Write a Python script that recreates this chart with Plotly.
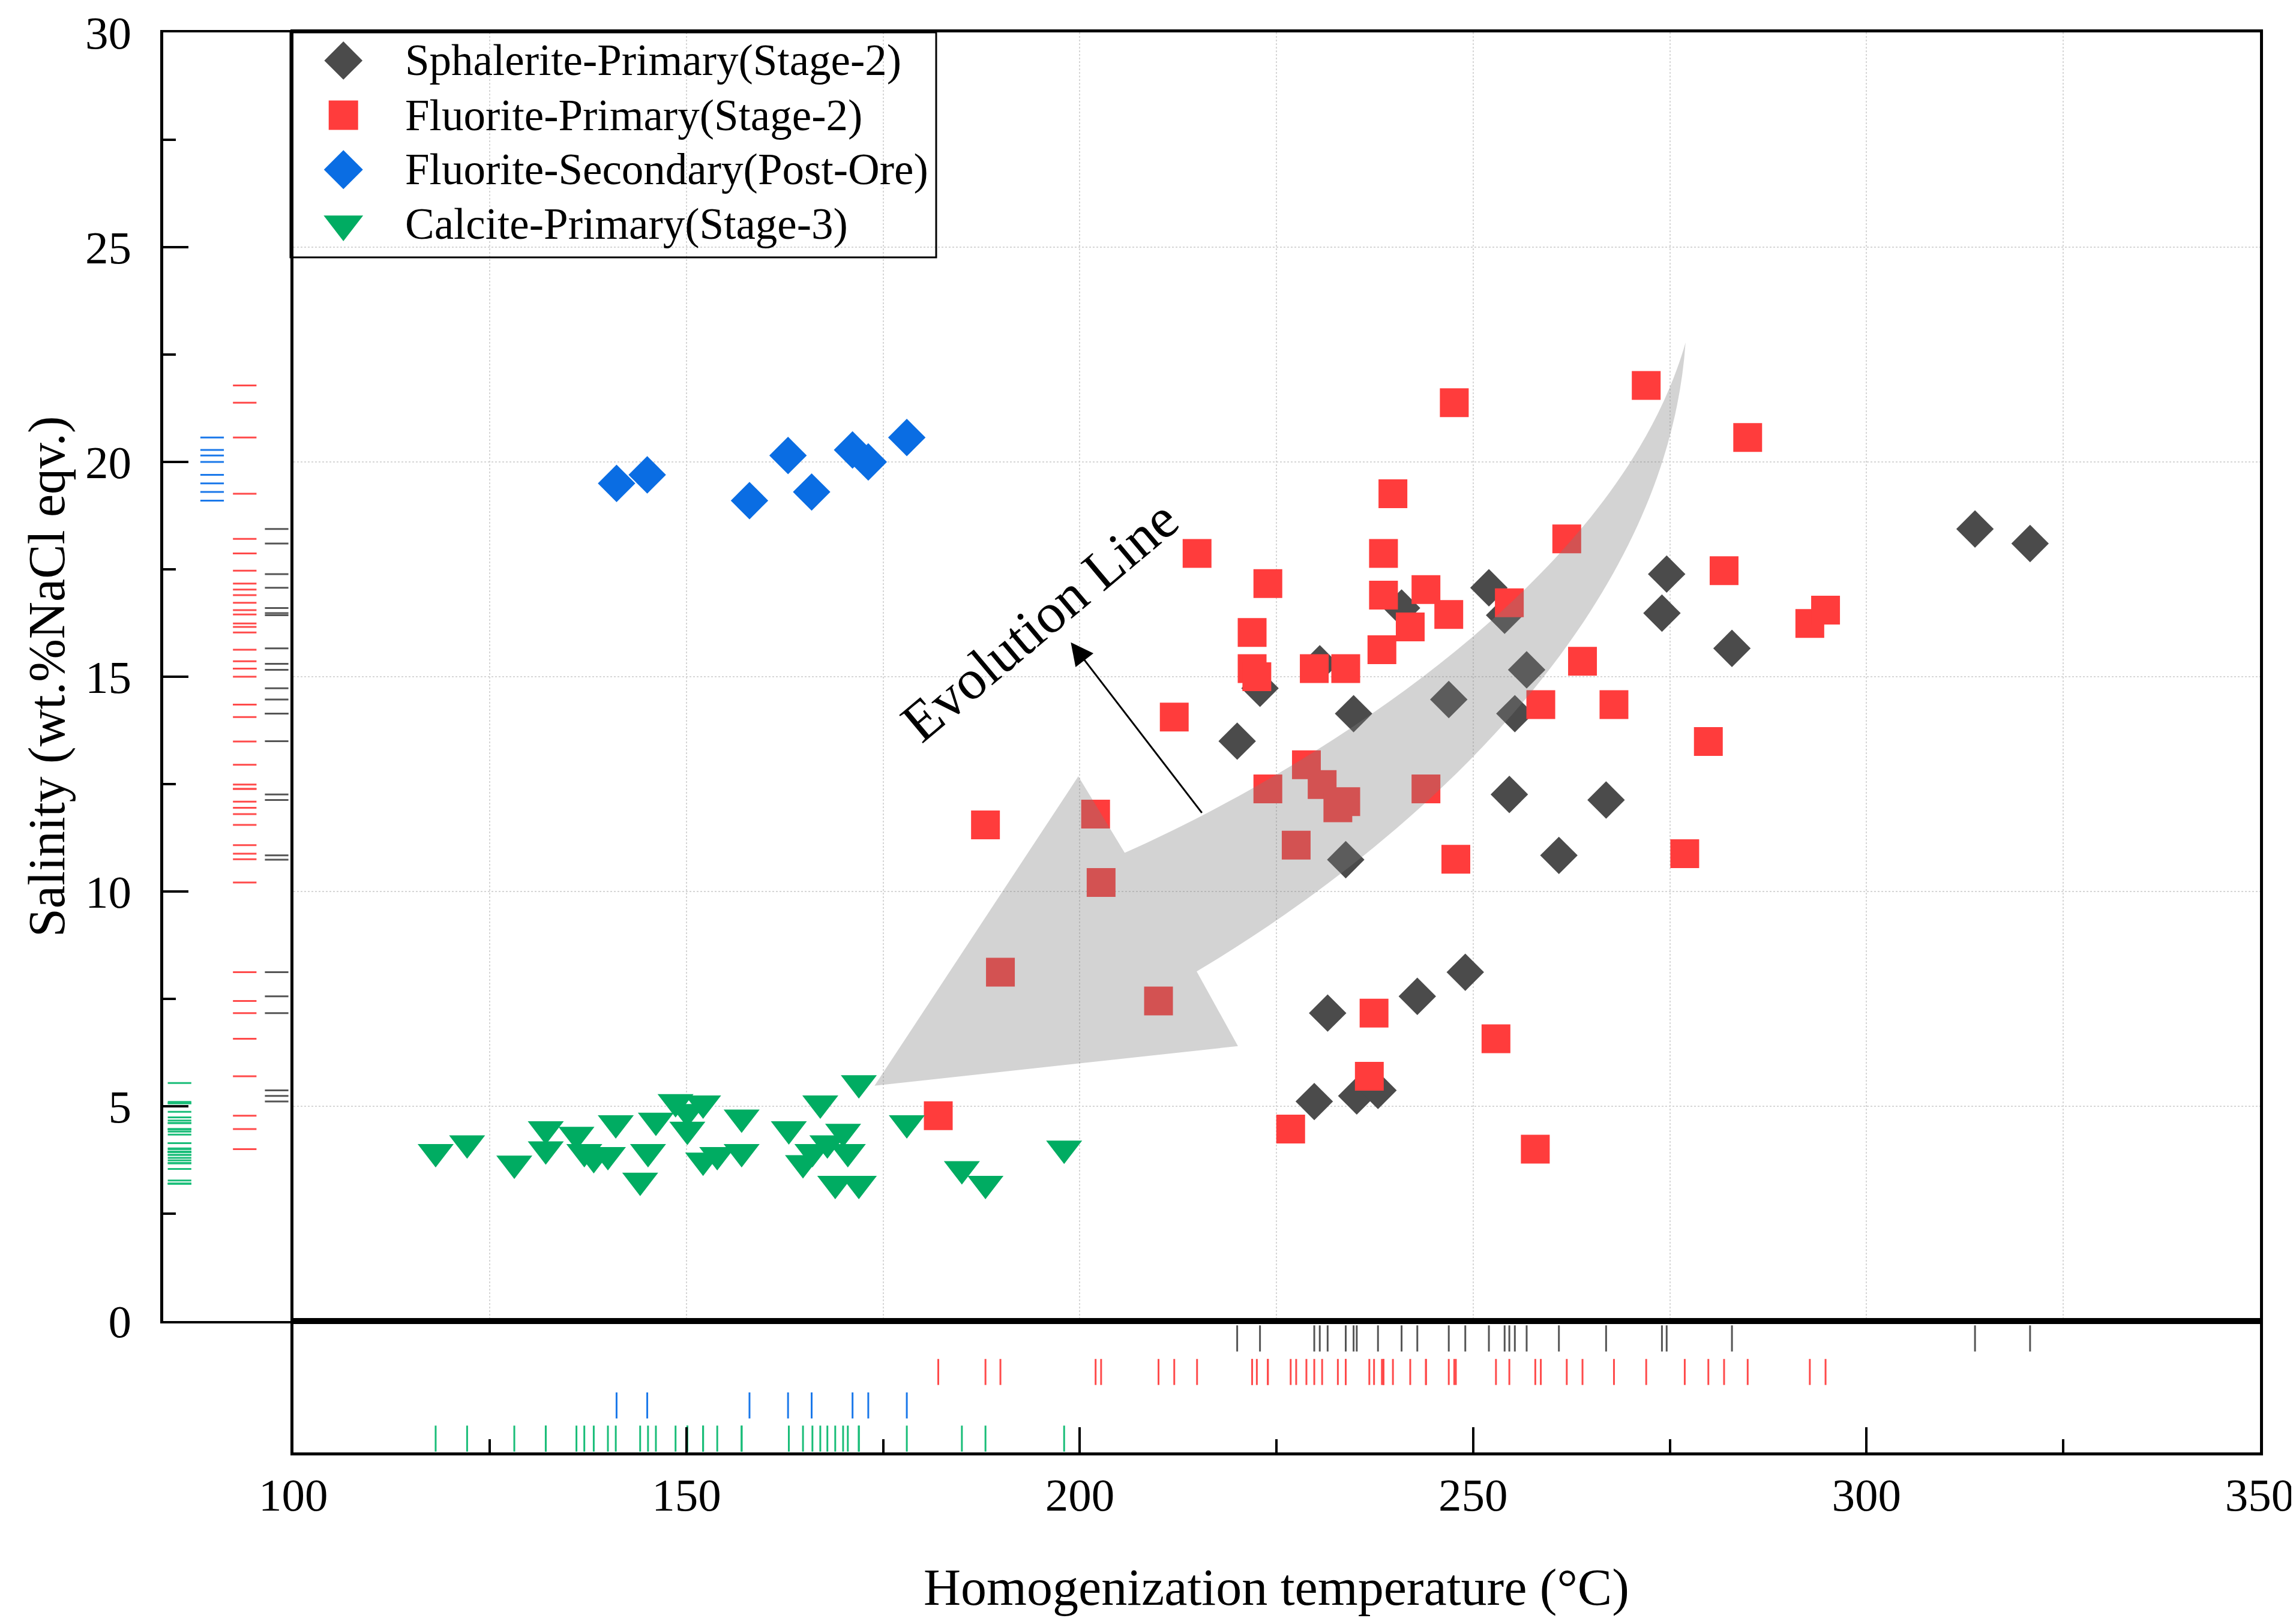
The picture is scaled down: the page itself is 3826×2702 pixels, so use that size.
import plotly.graph_objects as go

# ---------------- data ----------------
series_names = ["Sphalerite-Primary(Stage-2)", "Fluorite-Primary(Stage-2)",
                "Fluorite-Secondary(Post-Ore)", "Calcite-Primary(Stage-3)"]

sphalerite_T = [220.0, 222.9, 229.8, 230.5, 231.5, 233.8, 234.8, 235.2, 237.9, 240.9,
                242.9, 246.9, 249.0, 252.0, 254.0, 254.6, 255.3, 256.8, 260.9, 266.9,
                274.0, 274.6, 282.9, 313.8, 320.8]
sphalerite_S = [13.50, 14.73, 5.11, 15.30, 7.17, 10.74, 14.14, 5.24, 5.37, 16.60,
                7.56, 14.47, 8.12, 17.07, 16.43, 12.26, 14.14, 15.16, 10.84, 12.13,
                16.48, 17.39, 15.66, 18.44, 18.10]

fluorite_p_T = [247.6, 272.0, 284.9, 239.8, 214.9, 223.9, 238.6, 244.0, 238.6, 242.0,
                246.9, 254.6, 261.9, 221.9, 221.9, 222.5, 229.8, 233.8, 238.4, 263.9,
                258.6, 267.9, 212.0, 281.9, 292.8, 294.8, 228.8, 230.8, 223.9, 244.0,
                232.8, 233.8, 227.5, 202.0, 188.0, 202.7, 247.8, 276.9, 279.9, 189.9,
                210.0, 237.4, 252.9, 236.8, 182.0, 226.8, 257.9]
fluorite_p_S = [21.38, 21.78, 20.57, 19.26, 17.87, 17.17, 17.87, 17.03, 16.90, 16.16,
                16.45, 16.72, 18.21, 16.03, 15.19, 15.00, 15.19, 15.19, 15.63, 15.36,
                14.35, 14.35, 14.06, 17.47, 16.24, 16.55, 12.95, 12.49, 12.39, 12.39,
                11.95, 12.09, 11.08, 11.80, 11.55, 10.21, 10.75, 10.88, 13.49, 8.12,
                7.45, 7.17, 6.57, 5.70, 4.78, 4.47, 4.00]

fluorite_s_T = [141.1, 145.0, 158.0, 162.9, 165.9, 171.1, 173.1, 178.0]
fluorite_s_S = [19.50, 19.70, 19.10, 20.15, 19.30, 20.28, 20.00, 20.57]

calcite_T = [118.1, 122.1, 128.1, 132.1, 132.1, 136.0, 137.0, 138.2, 140.0, 141.0,
             144.1, 145.1, 146.1, 148.6, 150.1, 150.1, 152.1, 152.1, 153.9, 157.0,
             157.0, 163.0, 164.8, 166.0, 167.0, 167.9, 168.9, 169.9, 170.5, 171.9,
             171.9, 178.0, 185.0, 188.0, 198.0]
calcite_S = [3.94, 4.14, 3.67, 4.47, 4.00, 4.34, 3.94, 3.80, 3.87, 4.61,
             3.27, 3.94, 4.67, 5.10, 4.87, 4.46, 5.07, 3.74, 3.87, 4.74,
             3.94, 4.47, 3.68, 3.94, 5.07, 4.14, 3.20, 4.41, 3.94, 3.20,
             5.54, 4.61, 3.54, 3.20, 4.02]

x_ticks = [100, 150, 200, 250, 300, 350]
y_ticks = [0, 5, 10, 15, 20, 25, 30]
x_title = "Homogenization temperature (°C)"
y_title = "Salinity (wt.%NaCl eqv.)"
arrow_label = "Evolution Line"

# outline of the grey "evolution" arrow (data coordinates)
evo_tail = (277.0, 22.78)
evo_upper_c1 = (268.1, 17.06)
evo_upper_c2 = (227.1, 12.63)
evo_notch_up = (205.7, 10.90)
evo_barb_up = (199.8, 12.68)
evo_tip = (173.9, 5.48)
evo_barb_low = (220.1, 6.40)
evo_notch_low = (214.85, 8.14)
evo_lower_c1 = (242.0, 11.10)
evo_lower_c2 = (274.6, 16.38)
pointer_from = (215.6, 11.81)
pointer_to = (198.85, 15.80)
label_pos = (194.9, 16.31)

# ---------------- style / layout ----------------
W, H = 3826, 2702
FONT = "Liberation Serif"
XL, X0, X1 = 263.5 / W, 480.7 / W, 3757.6 / W
YT, Y0, YB = 1 - 46.0 / H, 1 - 2194.0 / H, 1 - 2413.0 / H
LEG = dict(x0=476 / W, x1=1552 / W, y0=1 - 421 / H, y1=1 - 46 / H)

series = [
    dict(name=series_names[0], x=sphalerite_T, y=sphalerite_S, symbol="diamond", size=48,
         color="#4b4b4b", rug="#555555", lane_b=3.47, lane_l=3.49, leg_size=49),
    dict(name=series_names[1], x=fluorite_p_T, y=fluorite_p_S, symbol="square", size=48,
         color="#ff3c3c", rug="#ff4a4a", lane_b=2.45, lane_l=2.51, leg_size=49),
    dict(name=series_names[2], x=fluorite_s_T, y=fluorite_s_S, symbol="diamond", size=48,
         color="#0a6de3", rug="#1a78ea", lane_b=1.43, lane_l=1.51, leg_size=50),
    dict(name=series_names[3], x=calcite_T, y=calcite_S, symbol="triangle-down", size=52,
         color="#00ac62", rug="#19bd78", lane_b=0.42, lane_l=0.51, leg_size=57),
]

fig = go.Figure()

# main scatter
for s in series:
    fig.add_trace(go.Scatter(x=s["x"], y=s["y"], mode="markers", name=s["name"],
                             marker=dict(symbol=s["symbol"], size=s["size"], color=s["color"],
                                         line=dict(width=0)),
                             xaxis="x", yaxis="y", showlegend=False, hoverinfo="skip"))

# left rug (salinity)
for s in series:
    fig.add_trace(go.Scatter(x=[s["lane_l"]] * len(s["y"]), y=s["y"], mode="markers",
                             marker=dict(symbol="line-ew", size=28,
                                         line=dict(width=3, color=s["rug"])),
                             xaxis="x2", yaxis="y2", showlegend=False, hoverinfo="skip"))

# bottom rug (temperature)
for s in series:
    fig.add_trace(go.Scatter(x=s["x"], y=[s["lane_b"]] * len(s["x"]), mode="markers",
                             marker=dict(symbol="line-ns", size=31,
                                         line=dict(width=3, color=s["rug"])),
                             xaxis="x3", yaxis="y3", showlegend=False, hoverinfo="skip"))

# custom legend
leg_rows = [0.875, 0.632, 0.39, 0.148]
annotations = []
for s, ry in zip(series, leg_rows):
    fig.add_trace(go.Scatter(x=[0.082], y=[ry], mode="markers",
                             marker=dict(symbol=s["symbol"], size=s["leg_size"], color=s["color"],
                                         line=dict(width=0)),
                             xaxis="x4", yaxis="y4", showlegend=False, hoverinfo="skip"))
    annotations.append(dict(x=0.176, y=ry, xref="x4", yref="y4", text=s["name"],
                            showarrow=False, xanchor="left", yanchor="middle",
                            font=dict(family=FONT, size=73, color="black")))

grid = dict(showgrid=True, gridcolor="#d6d6d6", griddash="dot", gridwidth=2)
tickfont = dict(family=FONT, size=77, color="black")
common = dict(automargin=False, zeroline=False, linecolor="black")

fig.update_layout(
    width=W, height=H, margin=dict(l=0, r=0, t=0, b=0, pad=0),
    paper_bgcolor="white", plot_bgcolor="rgba(0,0,0,0)", showlegend=False,
    font=dict(family=FONT, size=72, color="black"),
    xaxis=dict(domain=[X0, X1], range=[100, 350], anchor="y", showline=True, mirror=True,
               linewidth=5, tick0=100, dtick=25, ticks="",
               showticklabels=False, **grid, **common),
    yaxis=dict(domain=[Y0, YT], range=[0, 30], anchor="x", showline=True, mirror=True,
               linewidth=5, tick0=0, dtick=5, ticks="",
               showticklabels=False, **grid, **common),
    xaxis2=dict(domain=[XL, X0], range=[0, 4], anchor="y2", showline=True, mirror=True,
                linewidth=4, showgrid=False, ticks="",
                showticklabels=False, **common),
    yaxis2=dict(domain=[Y0, YT], range=[0, 30], anchor="x2", side="left", showline=True,
                linewidth=5, showgrid=False,
                ticks="inside", ticklen=42, tickwidth=4, tickcolor="black",
                tickmode="array", tickvals=y_ticks, ticktext=[str(v) for v in y_ticks],
                tickfont=tickfont, ticklabelstandoff=32,
                minor=dict(ticks="inside", ticklen=21, tickwidth=4, tickcolor="black",
                           tickmode="array", tickvals=[v + 2.5 for v in y_ticks[:-1]]),
                **common),
    xaxis3=dict(domain=[X0, X1], range=[100, 350], anchor="y3", showline=True, mirror=True,
                linewidth=5, showgrid=False,
                ticks="inside", ticklen=42, tickwidth=4, tickcolor="black",
                tickmode="array", tickvals=x_ticks, ticktext=[str(v) for v in x_ticks],
                tickfont=tickfont, ticklabelstandoff=0,
                minor=dict(ticks="inside", ticklen=22, tickwidth=4, tickcolor="black",
                           tickmode="array", tickvals=[v + 25 for v in x_ticks[:-1]]),
                **common),
    yaxis3=dict(domain=[YB, Y0], range=[0, 4], anchor="x3", showline=True, mirror=True,
                linewidth=5, showgrid=False, ticks="",
                showticklabels=False, **common),
    xaxis4=dict(domain=[LEG["x0"], LEG["x1"]], range=[0, 1], anchor="y4", visible=False,
                fixedrange=True, automargin=False),
    yaxis4=dict(domain=[LEG["y0"], LEG["y1"]], range=[0, 1], anchor="x4", visible=False,
                fixedrange=True, automargin=False),
)

def pt(p):
    return f"{p[0]},{p[1]}"

evo_path = (f"M {pt(evo_tail)} C {pt(evo_upper_c1)} {pt(evo_upper_c2)} {pt(evo_notch_up)} "
            f"L {pt(evo_barb_up)} L {pt(evo_tip)} L {pt(evo_barb_low)} L {pt(evo_notch_low)} "
            f"C {pt(evo_lower_c1)} {pt(evo_lower_c2)} {pt(evo_tail)} Z")

shapes = [
    dict(type="path", path=evo_path, xref="x", yref="y", fillcolor="rgba(126,126,126,0.34)",
         line=dict(width=0), layer="above"),
    dict(type="rect", xref="paper", yref="paper", x0=LEG["x0"], x1=LEG["x1"],
         y0=LEG["y0"], y1=LEG["y1"], line=dict(width=3, color="black"),
         fillcolor="rgba(0,0,0,0)", layer="above"),
]

annotations += [
    dict(x=pointer_to[0], y=pointer_to[1], ax=pointer_from[0], ay=pointer_from[1],
         xref="x", yref="y", axref="x", ayref="y", text="", showarrow=True,
         arrowhead=2, arrowsize=2.5, arrowwidth=3, arrowcolor="black", standoff=0),
    dict(x=label_pos[0], y=label_pos[1], xref="x", yref="y", text=arrow_label,
         showarrow=False, textangle=-40, font=dict(family=FONT, size=94, color="black")),
    dict(x=(X0 + X1) / 2, y=14 / H, xref="paper", yref="paper", text=x_title,
         showarrow=False, xanchor="center", yanchor="bottom",
         font=dict(family=FONT, size=86, color="black")),
    dict(x=76 / W, y=(Y0 + YT) / 2, xref="paper", yref="paper", text=y_title,
         showarrow=False, textangle=-90, xanchor="center", yanchor="middle", xshift=-6,
         font=dict(family=FONT, size=86, color="black")),
]

fig.update_layout(shapes=shapes, annotations=annotations)
fig.write_html("out.html")
